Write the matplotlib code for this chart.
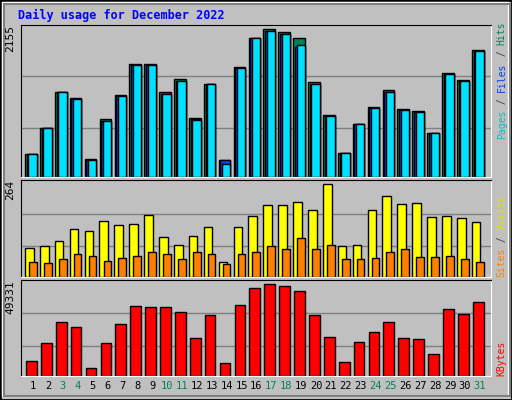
import matplotlib
matplotlib.use("Agg")
import matplotlib.pyplot as plt
from matplotlib.patches import Rectangle

# daily values
days = list(range(1, 32))
hits = [341, 722, 1234, 1160, 268, 844, 1204, 1648, 1648, 1234, 1438, 868, 1365, 254, 1604,
        2023, 2155, 2111, 2023, 1380, 912, 356, 780, 1029, 1268, 1000, 970, 648, 1516, 1414, 1848]
files = [341, 722, 1234, 1146, 254, 824, 1190, 1629, 1629, 1219, 1409, 848, 1351, 254, 1599,
         2023, 2136, 2082, 1900, 1351, 897, 356, 780, 1014, 1248, 985, 956, 648, 1497, 1409, 1833]
pages = [341, 722, 1234, 1146, 254, 824, 1190, 1629, 1629, 1219, 1409, 839, 1351, 195, 1599,
         2023, 2136, 2082, 1921, 1351, 897, 356, 780, 1014, 1248, 985, 956, 648, 1497, 1409, 1833]
visits = [84, 87, 104, 138, 132, 161, 147, 152, 178, 115, 92, 118, 144, 44, 144,
          175, 204, 204, 215, 190, 264, 87, 92, 190, 230, 207, 210, 170, 175, 167, 158]
sites = [44, 41, 52, 67, 61, 47, 55, 61, 70, 67, 50, 72, 67, 38, 67,
         72, 87, 81, 110, 81, 92, 50, 50, 55, 72, 81, 58, 58, 61, 52, 44]
kbytes = [8280, 18000, 28800, 26100, 4500, 18000, 27720, 37440, 36900, 36900, 34200, 20700, 32580, 7200, 37980,
          47160, 49331, 48240, 45540, 32580, 21240, 7740, 18540, 23940, 28800, 20700, 20160, 12060, 35820, 33120, 39600]
weekends = [3, 4, 10, 11, 17, 18, 24, 25, 31]

bg = '#c0c0c0'
mono = 'DejaVu Sans Mono'
W, H = 512, 400

fig = plt.figure(figsize=(5.12, 4.0), dpi=100, facecolor=bg)
# bevelled border
fig.patches.append(Rectangle((0, 0), 1, 1, transform=fig.transFigure, fill=False, ec='black', lw=2))
fig.patches.append(Rectangle((2/W, 4/H), 1-6/W, 1-6/H, transform=fig.transFigure, fill=False, ec='white', lw=1))
fig.patches.append(Rectangle((4/W, 4/H), 1-6/W, 1-8/H, transform=fig.transFigure, fill=False, ec='#808080', lw=1.5))

def make_ax(top, bottom):
    ax = fig.add_axes([21/W, 1-bottom/H, 470/W, (bottom-top)/H])
    ax.set_facecolor(bg)
    ax.set_xlim(0.19, 31.75)
    ax.set_xticks([]); ax.set_yticks([])
    for s in ax.spines.values():
        s.set_color('black')
    ax.spines['bottom'].set_color('white')
    ax.spines['right'].set_color('white')
    return ax

kw = dict(align='edge', edgecolor='black', linewidth=1)
d = [x - 0.1 for x in days]

ax1 = make_ax(25, 177)
ax1.set_ylim(0, max(hits) * 1.03)
for g in [722, 1468]:
    ax1.axhline(g, color='#808080', lw=1, zorder=0)
ax1.bar([x - 0.43 for x in d], hits, width=0.78, color='#00805c', **kw)
ax1.bar([x - 0.32 for x in d], files, width=0.67, color='#0040ff', **kw)
ax1.bar([x - 0.21 for x in d], pages, width=0.56, color='#00e0ff', **kw)

ax2 = make_ax(180, 277)
ax2.set_ylim(0, max(visits) * 1.048)
for g in [87, 181]:
    ax2.axhline(g, color='#808080', lw=1, zorder=0)
ax2.bar([x - 0.44 for x in d], visits, width=0.58, color='#ffff00', **kw)
ax2.bar([x - 0.17 for x in d], sites, width=0.52, color='#ff8000', **kw)

ax3 = make_ax(280, 376)
ax3.set_ylim(0, max(kbytes) * 1.047)
for g in [16030, 33640]:
    ax3.axhline(g, color='#808080', lw=1, zorder=0)
ax3.bar([x - 0.37 for x in d], kbytes, width=0.72, color='#ff0000', **kw)

for ax, label in [(ax1, '2155'), (ax2, '264'), (ax3, '49331')]:
    ax.text(-0.012, 1.0, label, transform=ax.transAxes, rotation=90, ha='right', va='top',
            family=mono, fontsize=8, color='black')

def side_label(ax, parts, y0_px):
    # place coloured pieces one after another, going upward
    hpx = ax.get_position().height * H
    y = y0_px
    for txt, col in parts:
        ax.text(1.012, y / hpx, txt, transform=ax.transAxes, rotation=90, ha='left', va='bottom',
                family=mono, fontsize=7, color=col)
        y += len(txt) * 5.9

side_label(ax1, [('Pages', '#00c0c0'), (' / ', '#404040'), ('Files', '#0040ff'), (' / ', '#404040'), ('Hits', '#00805c')], 38)
side_label(ax2, [('Sites', '#ff8000'), (' / ', '#404040'), ('Visits', '#e0e000')], 0)
side_label(ax3, [('KBytes', '#ff0000')], 0)

for day in days:
    ax3.text(day, -0.1, str(day), transform=ax3.get_xaxis_transform(), ha='center', va='center',
             family=mono, fontsize=7.5, color='#00805c' if day in weekends else 'black')

fig.text(18/W, 1-15/H, 'Daily usage for December 2022', family=mono, fontweight='bold',
         fontsize=8.5, color='#0000ff', va='center')

fig.savefig('out.png', dpi=100, facecolor=bg)
